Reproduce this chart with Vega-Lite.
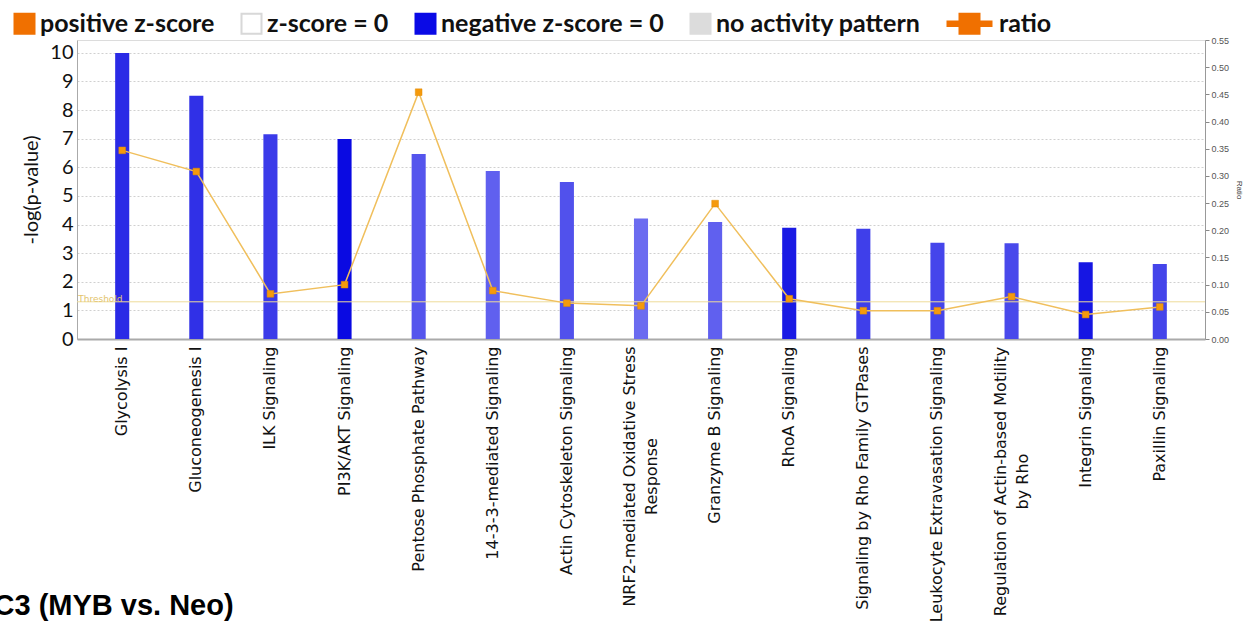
{
  "$schema": "https://vega.github.io/schema/vega-lite/v6.json",
  "width": 1128,
  "height": 299,
  "autosize": {"type": "none"},
  "padding": {"left": 77, "top": 40, "right": 53, "bottom": 283},
  "background": "white",
  "config": {"view": {"stroke": "#dcdcdc"}, "font": "DejaVu Sans"},
  "datasets": {
    "pathways": [
      {"pathway": "Glycolysis I", "neglogp": 10.0, "ratio": 0.347, "intensity": 0.71},
      {"pathway": "Gluconeogenesis I", "neglogp": 8.5, "ratio": 0.308, "intensity": 0.67},
      {"pathway": "ILK Signaling", "neglogp": 7.16, "ratio": 0.083, "intensity": 0.59},
      {"pathway": "PI3K/AKT Signaling", "neglogp": 6.99, "ratio": 0.1, "intensity": 0.93},
      {"pathway": "Pentose Phosphate Pathway", "neglogp": 6.47, "ratio": 0.454, "intensity": 0.41},
      {"pathway": "14-3-3-mediated Signaling", "neglogp": 5.87, "ratio": 0.089, "intensity": 0.33},
      {"pathway": "Actin Cytoskeleton Signaling", "neglogp": 5.49, "ratio": 0.066, "intensity": 0.44},
      {"pathway": "NRF2-mediated Oxidative Stress Response", "neglogp": 4.21, "ratio": 0.061, "intensity": 0.26},
      {"pathway": "Granzyme B Signaling", "neglogp": 4.09, "ratio": 0.249, "intensity": 0.33},
      {"pathway": "RhoA Signaling", "neglogp": 3.89, "ratio": 0.074, "intensity": 0.82},
      {"pathway": "Signaling by Rho Family GTPases", "neglogp": 3.85, "ratio": 0.052, "intensity": 0.56},
      {"pathway": "Leukocyte Extravasation Signaling", "neglogp": 3.36, "ratio": 0.052, "intensity": 0.52},
      {"pathway": "Regulation of Actin-based Motility by Rho", "neglogp": 3.35, "ratio": 0.078, "intensity": 0.49},
      {"pathway": "Integrin Signaling", "neglogp": 2.68, "ratio": 0.045, "intensity": 0.85},
      {"pathway": "Paxillin Signaling", "neglogp": 2.62, "ratio": 0.059, "intensity": 0.53}
    ],
    "legend": [
      {"entry": "positive z-score"},
      {"entry": "z-score = 0"},
      {"entry": "negative z-score = 0"},
      {"entry": "no activity pattern"},
      {"entry": "ratio"}
    ],
    "threshold": [{"value": 1.3, "label": "Threshold", "pathway": "Glycolysis I"}]
  },
  "layer": [
    {
      "layer": [
        {
          "data": {"name": "pathways"},
          "mark": {"type": "bar", "width": {"band": 0.19}},
          "encoding": {
            "x": {
              "field": "pathway", "type": "nominal", "sort": null, "title": "C3 (MYB vs. Neo)",
              "scale": {"paddingInner": 0, "paddingOuter": 0.11},
              "axis": {
                "titleX": -84, "titleY": 275, "titleAlign": "left", "titleAngle": 0, "titleBaseline": "alphabetic",
                "titleFont": "Liberation Sans", "titleFontSize": 29, "titleFontWeight": "bold", "titleColor": "#000000",
                "labelAngle": -90, "labelFont": "DejaVu Sans", "labelFontSize": 16, "labelColor": "#111111",
                "labelLimit": 1000, "labelOverlap": false, "labelLineHeight": 22,
                "labelExpr": "datum.label == 'NRF2-mediated Oxidative Stress Response' ? ['NRF2-mediated Oxidative Stress', 'Response'] : datum.label == 'Regulation of Actin-based Motility by Rho' ? ['Regulation of Actin-based Motility', 'by Rho'] : datum.label",
                "labelAlign": {"condition": {"test": "datum.value == 'NRF2-mediated Oxidative Stress Response' || datum.value == 'Regulation of Actin-based Motility by Rho'", "value": "center"}, "value": "right"},
                "labelPadding": {"condition": [{"test": "datum.value == 'NRF2-mediated Oxidative Stress Response'", "value": 137}, {"test": "datum.value == 'Regulation of Actin-based Motility by Rho'", "value": 142}], "value": 7},
                "labelOffset": {"condition": {"test": "datum.value == 'NRF2-mediated Oxidative Stress Response' || datum.value == 'Regulation of Actin-based Motility by Rho'", "value": -11}, "value": 0},
                "ticks": false, "domainColor": "#aaaaaa", "domainWidth": 2
              }
            },
            "y": {
              "field": "neglogp", "type": "quantitative", "title": "-log(p-value)",
              "scale": {"domain": [0, 10.45], "nice": false},
              "axis": {
                "titleFont": "Lato", "titleFontSize": 20, "titleFontWeight": "normal", "titleColor": "#111111", "titlePadding": 8,
                "labelFont": "Lato", "labelFontSize": 20, "labelColor": "#111111", "labelPadding": 4, "labelOverlap": false,
                "values": [0, 1, 2, 3, 4, 5, 6, 7, 8, 9, 10], "ticks": false, "domainColor": "#aaaaaa",
                "grid": true, "gridDash": [2, 2], "gridColor": "#d0d0d0"
              }
            },
            "color": {
              "field": "intensity", "type": "quantitative",
              "scale": {"domain": [0, 1], "range": ["#9090f6", "#0000e0"], "interpolate": "rgb"},
              "legend": null
            }
          }
        },
        {
          "data": {"name": "threshold"},
          "mark": {"type": "rule", "color": "#eedc9a", "strokeWidth": 1},
          "encoding": {
            "y": {
              "field": "value", "type": "quantitative", "title": "-log(p-value)",
              "axis": {
                "titleFont": "Lato", "titleFontSize": 20, "titleFontWeight": "normal", "titleColor": "#111111", "titlePadding": 8,
                "labelFont": "Lato", "labelFontSize": 20, "labelColor": "#111111", "labelPadding": 4, "labelOverlap": false,
                "values": [0, 1, 2, 3, 4, 5, 6, 7, 8, 9, 10], "ticks": false, "domainColor": "#aaaaaa",
                "grid": true, "gridDash": [2, 2], "gridColor": "#d0d0d0"
              }
            }
          }
        },
        {
          "data": {"name": "threshold"},
          "mark": {"type": "text", "align": "left", "baseline": "middle", "dx": -44, "dy": -3, "fontSize": 9, "color": "#e3c46e", "font": "DejaVu Sans"},
          "encoding": {
            "x": {
              "field": "pathway", "type": "nominal", "sort": null, "title": "C3 (MYB vs. Neo)",
              "axis": {
                "titleX": -84, "titleY": 275, "titleAlign": "left", "titleAngle": 0, "titleBaseline": "alphabetic",
                "titleFont": "Liberation Sans", "titleFontSize": 29, "titleFontWeight": "bold", "titleColor": "#000000",
                "labelAngle": -90, "labelFont": "DejaVu Sans", "labelFontSize": 16, "labelColor": "#111111",
                "labelLimit": 1000, "labelOverlap": false, "labelLineHeight": 22,
                "labelExpr": "datum.label == 'NRF2-mediated Oxidative Stress Response' ? ['NRF2-mediated Oxidative Stress', 'Response'] : datum.label == 'Regulation of Actin-based Motility by Rho' ? ['Regulation of Actin-based Motility', 'by Rho'] : datum.label",
                "labelAlign": {"condition": {"test": "datum.value == 'NRF2-mediated Oxidative Stress Response' || datum.value == 'Regulation of Actin-based Motility by Rho'", "value": "center"}, "value": "right"},
                "labelPadding": {"condition": [{"test": "datum.value == 'NRF2-mediated Oxidative Stress Response'", "value": 137}, {"test": "datum.value == 'Regulation of Actin-based Motility by Rho'", "value": 142}], "value": 7},
                "labelOffset": {"condition": {"test": "datum.value == 'NRF2-mediated Oxidative Stress Response' || datum.value == 'Regulation of Actin-based Motility by Rho'", "value": -11}, "value": 0},
                "ticks": false, "domainColor": "#aaaaaa", "domainWidth": 2
              }
            },
            "y": {
              "field": "value", "type": "quantitative", "title": "-log(p-value)",
              "axis": {
                "titleFont": "Lato", "titleFontSize": 20, "titleFontWeight": "normal", "titleColor": "#111111", "titlePadding": 8,
                "labelFont": "Lato", "labelFontSize": 20, "labelColor": "#111111", "labelPadding": 4, "labelOverlap": false,
                "values": [0, 1, 2, 3, 4, 5, 6, 7, 8, 9, 10], "ticks": false, "domainColor": "#aaaaaa",
                "grid": true, "gridDash": [2, 2], "gridColor": "#d0d0d0"
              }
            },
            "text": {"field": "label"}
          }
        }
      ]
    },
    {
      "layer": [
        {
          "data": {"name": "pathways"},
          "mark": {"type": "line", "color": "#f0bf5c", "strokeWidth": 1.5},
          "encoding": {
            "x": {
              "field": "pathway", "type": "nominal", "sort": null, "title": "C3 (MYB vs. Neo)",
              "axis": {
                "titleX": -84, "titleY": 275, "titleAlign": "left", "titleAngle": 0, "titleBaseline": "alphabetic",
                "titleFont": "Liberation Sans", "titleFontSize": 29, "titleFontWeight": "bold", "titleColor": "#000000",
                "labelAngle": -90, "labelFont": "DejaVu Sans", "labelFontSize": 16, "labelColor": "#111111",
                "labelLimit": 1000, "labelOverlap": false, "labelLineHeight": 22,
                "labelExpr": "datum.label == 'NRF2-mediated Oxidative Stress Response' ? ['NRF2-mediated Oxidative Stress', 'Response'] : datum.label == 'Regulation of Actin-based Motility by Rho' ? ['Regulation of Actin-based Motility', 'by Rho'] : datum.label",
                "labelAlign": {"condition": {"test": "datum.value == 'NRF2-mediated Oxidative Stress Response' || datum.value == 'Regulation of Actin-based Motility by Rho'", "value": "center"}, "value": "right"},
                "labelPadding": {"condition": [{"test": "datum.value == 'NRF2-mediated Oxidative Stress Response'", "value": 137}, {"test": "datum.value == 'Regulation of Actin-based Motility by Rho'", "value": 142}], "value": 7},
                "labelOffset": {"condition": {"test": "datum.value == 'NRF2-mediated Oxidative Stress Response' || datum.value == 'Regulation of Actin-based Motility by Rho'", "value": -11}, "value": 0},
                "ticks": false, "domainColor": "#aaaaaa", "domainWidth": 2
              }
            },
            "y": {
              "field": "ratio", "type": "quantitative", "title": "Ratio",
              "scale": {"domain": [0, 0.55], "nice": false},
              "axis": {
                "orient": "right", "titleFont": "Liberation Sans", "titleFontSize": 8, "titleFontWeight": "normal",
                "titleAngle": 90, "titleColor": "#444444", "titlePadding": 6,
                "labelFont": "Liberation Sans", "labelFontSize": 9, "labelColor": "#555555", "labelPadding": 2, "labelOverlap": false,
                "format": ".2f", "values": [0, 0.05, 0.1, 0.15, 0.2, 0.25, 0.3, 0.35, 0.4, 0.45, 0.5, 0.55],
                "tickSize": 4, "tickColor": "#888888", "domainColor": "#999999", "grid": false
              }
            }
          }
        },
        {
          "data": {"name": "pathways"},
          "mark": {"type": "point", "shape": "square", "filled": true, "size": 45, "color": "#f59a0c", "opacity": 1, "stroke": "#e08a00", "strokeWidth": 0.5},
          "encoding": {
            "x": {
              "field": "pathway", "type": "nominal", "sort": null, "title": "C3 (MYB vs. Neo)",
              "axis": {
                "titleX": -84, "titleY": 275, "titleAlign": "left", "titleAngle": 0, "titleBaseline": "alphabetic",
                "titleFont": "Liberation Sans", "titleFontSize": 29, "titleFontWeight": "bold", "titleColor": "#000000",
                "labelAngle": -90, "labelFont": "DejaVu Sans", "labelFontSize": 16, "labelColor": "#111111",
                "labelLimit": 1000, "labelOverlap": false, "labelLineHeight": 22,
                "labelExpr": "datum.label == 'NRF2-mediated Oxidative Stress Response' ? ['NRF2-mediated Oxidative Stress', 'Response'] : datum.label == 'Regulation of Actin-based Motility by Rho' ? ['Regulation of Actin-based Motility', 'by Rho'] : datum.label",
                "labelAlign": {"condition": {"test": "datum.value == 'NRF2-mediated Oxidative Stress Response' || datum.value == 'Regulation of Actin-based Motility by Rho'", "value": "center"}, "value": "right"},
                "labelPadding": {"condition": [{"test": "datum.value == 'NRF2-mediated Oxidative Stress Response'", "value": 137}, {"test": "datum.value == 'Regulation of Actin-based Motility by Rho'", "value": 142}], "value": 7},
                "labelOffset": {"condition": {"test": "datum.value == 'NRF2-mediated Oxidative Stress Response' || datum.value == 'Regulation of Actin-based Motility by Rho'", "value": -11}, "value": 0},
                "ticks": false, "domainColor": "#aaaaaa", "domainWidth": 2
              }
            },
            "y": {
              "field": "ratio", "type": "quantitative", "title": "Ratio",
              "axis": {
                "orient": "right", "titleFont": "Liberation Sans", "titleFontSize": 8, "titleFontWeight": "normal",
                "titleAngle": 90, "titleColor": "#444444", "titlePadding": 6,
                "labelFont": "Liberation Sans", "labelFontSize": 9, "labelColor": "#555555", "labelPadding": 2, "labelOverlap": false,
                "format": ".2f", "values": [0, 0.05, 0.1, 0.15, 0.2, 0.25, 0.3, 0.35, 0.4, 0.45, 0.5, 0.55],
                "tickSize": 4, "tickColor": "#888888", "domainColor": "#999999", "grid": false
              }
            }
          }
        }
      ]
    },
    {
      "data": {"name": "legend"},
      "mark": {"type": "point", "filled": true, "opacity": 0},
      "encoding": {
        "fill": {
          "field": "entry", "type": "nominal", "sort": null,
          "scale": {
            "domain": ["positive z-score", "z-score = 0", "negative z-score = 0", "no activity pattern", "ratio"],
            "range": ["#f07000", "#ffffff", "#0a0ae6", "#dcdcdc", "#f07000"]
          },
          "legend": {
            "title": null, "orient": "none", "legendX": -65, "legendY": -29, "direction": "horizontal", "padding": 0,
            "symbolSize": 400, "symbolStrokeWidth": 2, "symbolOpacity": 1,
            "labelFont": "Lato", "labelFontSize": 25, "labelFontWeight": "bold", "labelColor": "#111111",
            "labelOffset": 3, "labelLimit": 500, "columnPadding": 22,
            "encode": {
              "labels": {"update": {"dx": {"signal": "datum.label == 'ratio' ? 27 : 0"}}}
            }
          }
        },
        "stroke": {
          "field": "entry", "type": "nominal", "sort": null,
          "scale": {
            "domain": ["positive z-score", "z-score = 0", "negative z-score = 0", "no activity pattern", "ratio"],
            "range": ["#f07000", "#d8d8d8", "#0a0ae6", "#dcdcdc", "#f07000"]
          },
          "legend": {
            "title": null, "orient": "none", "legendX": -65, "legendY": -29, "direction": "horizontal", "padding": 0,
            "symbolSize": 400, "symbolStrokeWidth": 2, "symbolOpacity": 1,
            "labelFont": "Lato", "labelFontSize": 25, "labelFontWeight": "bold", "labelColor": "#111111",
            "labelOffset": 3, "labelLimit": 500, "columnPadding": 22,
            "encode": {
              "labels": {"update": {"dx": {"signal": "datum.label == 'ratio' ? 27 : 0"}}}
            }
          }
        },
        "shape": {
          "field": "entry", "type": "nominal", "sort": null,
          "scale": {
            "domain": ["positive z-score", "z-score = 0", "negative z-score = 0", "no activity pattern", "ratio"],
            "range": ["square", "square", "square", "square", "M-0.9,-0.22H3.5V0.22H-0.9Z M0.3,-1H2.3V1H0.3Z"]
          },
          "legend": {
            "title": null, "orient": "none", "legendX": -65, "legendY": -29, "direction": "horizontal", "padding": 0,
            "symbolSize": 400, "symbolStrokeWidth": 2, "symbolOpacity": 1,
            "labelFont": "Lato", "labelFontSize": 25, "labelFontWeight": "bold", "labelColor": "#111111",
            "labelOffset": 3, "labelLimit": 500, "columnPadding": 22,
            "encode": {
              "labels": {"update": {"dx": {"signal": "datum.label == 'ratio' ? 27 : 0"}}}
            }
          }
        }
      }
    }
  ],
  "resolve": {"scale": {"y": "independent", "color": "independent", "fill": "independent", "stroke": "independent", "shape": "independent"}}
}
